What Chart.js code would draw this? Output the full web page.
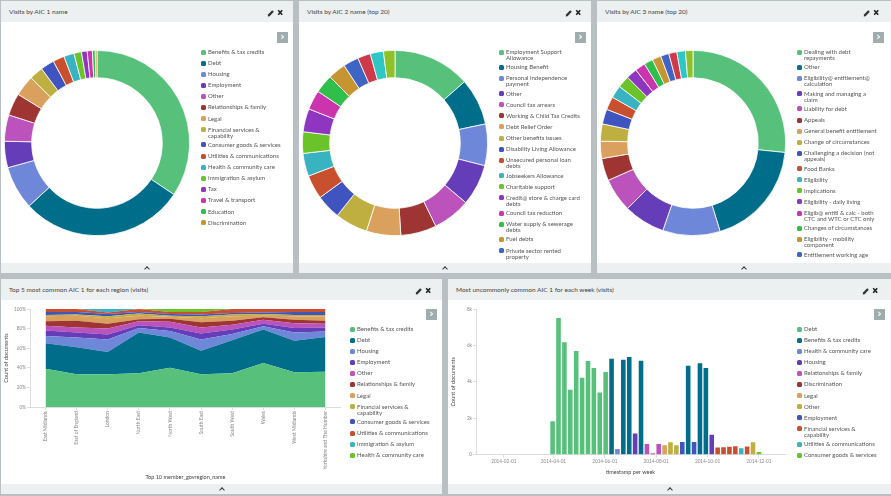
<!DOCTYPE html>
<html>
<head>
<meta charset="utf-8">
<title>Visits dashboard</title>
<script src="https://cdn.jsdelivr.net/npm/chart.js@4"></script>
<style>
  html, body { margin: 0; padding: 0; }
  body { width: 891px; height: 496px; background: #b9c0c4; position: relative; overflow: hidden;
         font-family: Lato, sans-serif; color: #555; filter: blur(0.3px); }
  .panel { position: absolute; background: #fff; overflow: hidden; }
  .head { position: absolute; left: 0; right: 0; top: 0; height: 21px; background: #ecf0f1;
          font-size: 6.5px; line-height: 21px; padding-left: 8px; color: #444; }
  .foot { position: absolute; left: 0; right: 0; bottom: 0; height: 10px; background: #ecf0f1; }
  .foot i { position: absolute; left: 50%; top: 4px; width: 3px; height: 3px; margin-left: -2px;
            border-left: 1.3px solid #333; border-top: 1.3px solid #333; transform: rotate(45deg); }
  .icons { position: absolute; width: 20px; height: 21px; }
  .toggle { position: absolute; width: 11px; height: 11px; background: #9fadae; color: #fff;
            font: bold 11px/10px "DejaVu Sans"; text-align: center; }
  .legend { position: absolute; width: 84px; overflow: hidden; font-size: 6px; line-height: 6px; color: #555; }
  .legend div { position: relative; box-sizing: border-box; min-height: 11.1px; padding: 0 0 3.3px 7px; }
  .legend b { position: absolute; left: 0; top: 0.5px; width: 5px; height: 5px; border-radius: 1.6px; }
  canvas { position: absolute; }
</style>
</head>
<body>
<script>
const palette = ['#57c17b','#006e8a','#6f87d8','#663db8','#bc52bc','#9e3533','#daa05d','#bfaf40','#4054bf','#c9502f',
                 '#39b3c2','#6bc32a','#8e36c0','#cc34ad','#30bf4a','#c79432','#3f65c4','#cf3a4b','#2fc6c6','#8ec02a'];

// visits by AIC 1
const aic1Names = ['Benefits & tax credits','Debt','Housing','Employment','Other','Relationships & family','Legal',
  'Financial services & capability','Consumer goods & services','Utilities & communications','Health & community care',
  'Immigration & asylum','Tax','Travel & transport','Education','Discrimination'];
const aic1Values = [34.4,28.7,7.6,4.6,4.6,3.9,3.6,2.4,2.4,2.0,1.8,1.3,1.0,0.9,0.5,0.3];

// top 20 slices, the legend only has room for 17 names
const aic2Names = ['Employment Support Allowance','Housing Benefit','Personal independence payment','Other','Council tax arrears',
  'Working & Child Tax Credits','Debt Relief Order','Other benefits issues','Disability Living Allowance',
  'Unsecured personal loan debts','Jobseekers Allowance','Charitable support','Credit@ store & charge card debts',
  'Council tax reduction','Water supply & sewerage debts','Fuel debts','Private sector rented property'];
const aic2Values = [13.5,8.2,7.25,7.2,6.6,6.25,6,5.7,4.3,4.2,4,3.75,4.05,3.4,3.25,3.1,2.7,2.25,2.3,2];

const aic3Names = ['Dealing with debt repayments','Other','Eligibility@ entitlement@ calculation','Making and managing a claim',
  'Liability for debt','Appeals','General benefit entitlement','Change of circumstances','Challenging a decision (not appeals)',
  'Food Banks','Eligibility','Implications','Eligibility - daily living','Eligib@ entitl & calc - both CTC and WTC or CTC only',
  'Changes of circumstances','Eligibility - mobility component','Entitlement working age'];
const aic3Values = [26.6,18.6,10,7.2,5.9,3.9,3,3,2.6,2.3,2.2,2.1,1.9,1.8,1.55,1.55,1.45,1.4,1.5,1.3];

// top 5 by region, percent of documents
const regions = ['East Midlands','East of England','London','North East','North West','South East','South West','Wales','West Midlands','Yorkshire and The Humber'];
const regionSeries = ['Benefits & tax credits','Debt','Housing','Employment','Other','Relationships & family','Legal',
  'Financial services & capability','Consumer goods & services','Utilities & communications','Immigration & asylum','Health & community care'];
const benefitsShare = [39,33.5,33.5,34.5,40,33.5,34.5,45,35.5,36];
const debtShare = [26,27.5,22.5,41.5,31,24,33.5,34,32,35.5];
const housingShare = [7.5,10,13,4.5,6.5,11.5,6.5,3.5,8.5,5.5];
const employmentShare = [5.5,5,5,3,3.5,6,4.5,2.5,4.5,4];
const otherShare = [5,5,6,4,6,6,5,4,5,4];
const relationshipsShare = [4.5,7,5,2,3,5.5,4,2.5,3.5,3];
const legalShare = [5,5,5.5,3.5,2,4,4.5,1.5,3.5,4];
const financialShare = [1.5,1.5,2,2.5,1,2,2,2,1.5,2];
const consumerShare = [3,2.5,2.5,1.5,2,2,1.5,1.5,3,3];
const utilitiesShare = [3,3,1.5,3,2,2.5,4,3.5,3,3];
const immigrationShare = [0,0,3.5,0,0,0,0,0,0,0];
const healthShare = [0,0,0,0,3,3,0,0,0,0];
const regionShares = [benefitsShare,debtShare,housingShare,employmentShare,otherShare,relationshipsShare,legalShare,
  financialShare,consumerShare,utilitiesShare,immigrationShare,healthShare];

// most uncommon AIC 1 per week
const weekSeries = ['Debt','Benefits & tax credits','Health & community care','Housing','Relationships & family','Discrimination',
  'Legal','Other','Employment','Financial services & capability','Utilities & communications','Consumer goods & services'];
const weeks = ['2014-03-31','2014-04-07','2014-04-14','2014-04-21','2014-04-28','2014-05-05','2014-05-12','2014-05-19','2014-05-26',
  '2014-06-02','2014-06-09','2014-06-16','2014-06-23','2014-06-30','2014-07-07','2014-07-14','2014-07-21','2014-07-28','2014-08-04',
  '2014-08-11','2014-08-18','2014-08-25','2014-09-01','2014-09-08','2014-09-15','2014-09-22','2014-09-29','2014-10-06','2014-10-13',
  '2014-10-20','2014-10-27','2014-11-03','2014-11-10','2014-11-17','2014-11-24','2014-12-01'];
const weekCounts = [1830,7500,6170,3570,5700,4230,5150,4760,3420,4540,5270,310,5220,5370,1170,5160,590,70,590,520,680,520,700,4890,
  700,5020,4760,1100,390,410,430,470,350,450,680,150];
const weekWinner = [0,0,0,0,0,0,0,0,0,0,1,2,1,1,3,1,4,5,4,6,7,7,8,1,8,1,1,3,9,9,9,9,10,9,7,11];
const weekTicks = ['2014-02-01','2014-04-01','2014-06-01','2014-08-01','2014-10-01','2014-12-01'];

function box(el, l, t, w, h) {
  el.style.left = l + 'px'; el.style.top = t + 'px';
  if (w) el.style.width = w + 'px';
  if (h) el.style.height = h + 'px';
}

function addPanel(title, l, t, w, h) {
  const p = document.createElement('div');
  p.className = 'panel';
  box(p, l, t, w, h);
  p.innerHTML = '<div class="head"></div><div class="foot"><i></i></div>';
  p.firstChild.textContent = title;
  document.body.appendChild(p);
  return p;
}

// pencil and close icons of the panel header
function addIcons(x, y) {
  const d = document.createElement('div');
  d.className = 'icons';
  d.innerHTML = '<svg width="20" height="21" viewBox="0 0 20 21">' +
    '<path d="M2 13.6 L6.2 9.2 L7.8 10.8 L3.6 15.2 L1.8 15.4 Z" fill="#333"/>' +
    '<path d="M12.2 9.2 L16.2 13.8 M16.2 9.2 L12.2 13.8" stroke="#222" stroke-width="1.6"/></svg>';
  box(d, x, y);
  document.body.appendChild(d);
}

function addToggle(x, y) {
  const d = document.createElement('div');
  d.className = 'toggle';
  d.textContent = '\u203A';
  box(d, x, y);
  document.body.appendChild(d);
}

function addLegend(names, x, y, maxH) {
  const d = document.createElement('div');
  d.className = 'legend';
  box(d, x, y, 0, maxH);
  names.forEach((n, i) => {
    const row = document.createElement('div');
    row.textContent = n;
    const dot = document.createElement('b');
    dot.style.background = palette[i];
    row.appendChild(dot);
    d.appendChild(row);
  });
  document.body.appendChild(d);
}

function addCanvas(l, t, w, h) {
  const c = document.createElement('canvas');
  c.width = w; c.height = h;
  box(c, l, t, w, h);
  document.body.appendChild(c);
  return c;
}

function donut(names, values, l, t) {
  new Chart(addCanvas(l, t, 186, 186), {
    type: 'doughnut',
    data: {
      labels: names,
      datasets: [{ data: values, backgroundColor: palette, borderColor: '#fff', borderWidth: 0.8 }]
    },
    options: {
      responsive: false, animation: false, cutout: '70.5%',
      plugins: { legend: { display: false }, tooltip: { enabled: false } }
    }
  });
}

Chart.defaults.font.family = 'Lato';

addPanel('Visits by AIC 1 name', 1, 1, 292, 272);
addPanel('Visits by AIC 2 name (top 20)', 299, 1, 292, 272);
addPanel('Visits by AIC 3 name (top 20)', 597, 1, 294, 272);
addPanel('Top 5 most common AIC 1 for each region (visits)', 1, 279, 441, 215);
addPanel('Most uncommonly common AIC 1 for each week (visits)', 448, 279, 443, 215);

addIcons(266, 1); addIcons(564, 1); addIcons(862, 1);
addIcons(414, 279); addIcons(861, 279);
addToggle(277, 32); addToggle(575, 32); addToggle(873, 32);
addToggle(426, 309); addToggle(874, 309);

donut(aic1Names, aic1Values, 4, 50);
donut(aic2Names, aic2Values, 302, 50);
donut(aic3Names, aic3Values, 600, 50);

addLegend(aic1Names, 201, 49, 212);
addLegend(aic2Names, 499, 49, 212);
addLegend(aic3Names, 797, 49, 212);
addLegend(regionSeries, 350, 326, 150);
addLegend(weekSeries, 797, 326, 150);

const axisCommon = {
  border: { color: '#ddd' },
  grid: { drawOnChartArea: false, color: '#ddd', tickLength: 3 }
};
const tickFont = { size: 5 };
const dateFont = { size: 4.7 };
const titleFont = { size: 5.5 };

new Chart(addCanvas(1, 303, 340, 180), {
  type: 'line',
  data: {
    labels: regions,
    datasets: regionSeries.map((name, i) => ({
      label: name,
      data: regionShares[i],
      fill: i === 0 ? 'origin' : '-1',
      backgroundColor: palette[i],
      borderWidth: 0,
      pointRadius: 0,
      tension: 0
    }))
  },
  options: {
    responsive: false, animation: false,
    layout: { padding: { top: 6, right: 0 } },
    plugins: { legend: { display: false }, tooltip: { enabled: false } },
    scales: {
      x: {
        ...axisCommon,
        offset: true,
        afterFit: (axis) => { axis.height = 76; },
        ticks: { font: tickFont, color: '#888', minRotation: 90, maxRotation: 90, autoSkip: false, padding: 1 },
        title: { display: true, text: 'Top 10 member_govregion_name', font: titleFont, color: '#444', padding: { top: 0, bottom: 2 } }
      },
      y: {
        ...axisCommon,
        stacked: true, min: 0, max: 100,
        afterFit: (axis) => { axis.width = 29; },
        ticks: { font: dateFont, color: '#888', stepSize: 20, padding: 1, callback: (v) => v + '%' },
        title: { display: true, text: 'Count of documents', font: titleFont, color: '#444', padding: { top: 2, bottom: 0 } }
      }
    }
  }
});

new Chart(addCanvas(448, 303, 345, 175), {
  type: 'bar',
  data: {
    datasets: weekSeries.map((name, s) => ({
      label: name,
      backgroundColor: palette[s],
      barPercentage: 0.78,
      categoryPercentage: 1,
      data: weeks.map((w, i) => ({ x: Date.parse(w), y: weekCounts[i], s: weekWinner[i] }))
                 .filter((p) => p.s === s)
    }))
  },
  options: {
    responsive: false, animation: false,
    layout: { padding: { top: 6, right: 8 } },
    plugins: { legend: { display: false }, tooltip: { enabled: false } },
    scales: {
      x: {
        ...axisCommon,
        type: 'linear', stacked: true, offset: false,
        grid: { ...axisCommon.grid, offset: false },
        min: Date.parse('2013-12-30'), max: Date.parse('2015-01-01'),
        afterBuildTicks: (axis) => { axis.ticks = weekTicks.map((d) => ({ value: Date.parse(d) })); },
        afterFit: (axis) => { axis.height = 23.3; },
        ticks: { font: dateFont, color: '#888', maxRotation: 0, autoSkip: false, padding: 1,
                 callback: (v) => new Date(v).toISOString().slice(0, 10) },
        title: { display: true, text: 'timestamp per week', font: titleFont, color: '#444', padding: { top: 0, bottom: 2 } }
      },
      y: {
        ...axisCommon,
        stacked: true, min: 0, max: 8000,
        afterFit: (axis) => { axis.width = 28; },
        ticks: { font: dateFont, color: '#888', stepSize: 2000, padding: 1, callback: (v) => v === 0 ? '0' : (v / 1000) + 'k' },
        title: { display: true, text: 'Count of documents', font: titleFont, color: '#444', padding: { top: 2, bottom: 0 } }
      }
    }
  }
});
</script>
</body>
</html>
